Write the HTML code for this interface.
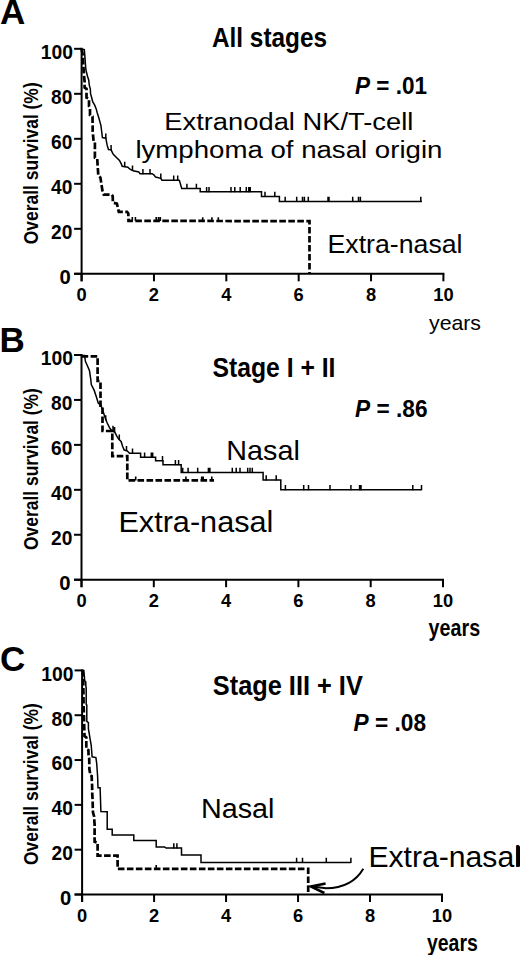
<!DOCTYPE html>
<html><head><meta charset="utf-8"><style>
html,body{margin:0;padding:0;background:#fff;}
svg{display:block;}
text{fill:#000;}
</style></head><body>
<svg width="520" height="955" viewBox="0 0 520 955">
<rect width="520" height="955" fill="#fff"/>
<line x1="81.6" y1="47.8" x2="81.6" y2="281.3" stroke="#000" stroke-width="2.0"/>
<line x1="74.1" y1="273.8" x2="444.4" y2="273.8" stroke="#000" stroke-width="2.0"/>
<line x1="74.1" y1="273.80" x2="81.6" y2="273.80" stroke="#000" stroke-width="2.0"/>
<text x="70.7" y="284.1" font-family="'Liberation Sans', sans-serif" font-weight="bold" font-size="20.3" text-anchor="end" >0</text>
<line x1="74.1" y1="228.80" x2="81.6" y2="228.80" stroke="#000" stroke-width="2.0"/>
<text x="72.4" y="239.1" font-family="'Liberation Sans', sans-serif" font-weight="bold" font-size="20.3" textLength="21.3" lengthAdjust="spacingAndGlyphs" text-anchor="end" >20</text>
<line x1="74.1" y1="183.80" x2="81.6" y2="183.80" stroke="#000" stroke-width="2.0"/>
<text x="72.4" y="194.1" font-family="'Liberation Sans', sans-serif" font-weight="bold" font-size="20.3" textLength="21.3" lengthAdjust="spacingAndGlyphs" text-anchor="end" >40</text>
<line x1="74.1" y1="138.80" x2="81.6" y2="138.80" stroke="#000" stroke-width="2.0"/>
<text x="72.4" y="149.1" font-family="'Liberation Sans', sans-serif" font-weight="bold" font-size="20.3" textLength="21.3" lengthAdjust="spacingAndGlyphs" text-anchor="end" >60</text>
<line x1="74.1" y1="93.80" x2="81.6" y2="93.80" stroke="#000" stroke-width="2.0"/>
<text x="72.4" y="104.1" font-family="'Liberation Sans', sans-serif" font-weight="bold" font-size="20.3" textLength="21.3" lengthAdjust="spacingAndGlyphs" text-anchor="end" >80</text>
<line x1="74.1" y1="48.80" x2="81.6" y2="48.80" stroke="#000" stroke-width="2.0"/>
<text x="73.0" y="59.1" font-family="'Liberation Sans', sans-serif" font-weight="bold" font-size="20.3" textLength="32.2" lengthAdjust="spacingAndGlyphs" text-anchor="end" >100</text>
<line x1="81.60" y1="273.8" x2="81.60" y2="281.3" stroke="#000" stroke-width="2.0"/>
<text x="81.60" y="301.2" font-family="'Liberation Sans', sans-serif" font-weight="bold" font-size="18.3" text-anchor="middle" >0</text>
<line x1="153.96" y1="273.8" x2="153.96" y2="281.3" stroke="#000" stroke-width="2.0"/>
<text x="153.96" y="301.2" font-family="'Liberation Sans', sans-serif" font-weight="bold" font-size="18.3" text-anchor="middle" >2</text>
<line x1="226.32" y1="273.8" x2="226.32" y2="281.3" stroke="#000" stroke-width="2.0"/>
<text x="226.32" y="301.2" font-family="'Liberation Sans', sans-serif" font-weight="bold" font-size="18.3" text-anchor="middle" >4</text>
<line x1="298.68" y1="273.8" x2="298.68" y2="281.3" stroke="#000" stroke-width="2.0"/>
<text x="298.68" y="301.2" font-family="'Liberation Sans', sans-serif" font-weight="bold" font-size="18.3" text-anchor="middle" >6</text>
<line x1="371.04" y1="273.8" x2="371.04" y2="281.3" stroke="#000" stroke-width="2.0"/>
<text x="371.04" y="301.2" font-family="'Liberation Sans', sans-serif" font-weight="bold" font-size="18.3" text-anchor="middle" >8</text>
<line x1="443.40" y1="273.8" x2="443.40" y2="281.3" stroke="#000" stroke-width="2.0"/>
<text x="443.40" y="301.2" font-family="'Liberation Sans', sans-serif" font-weight="bold" font-size="18.3" text-anchor="middle" >10</text>
<line x1="81.5" y1="354.0" x2="81.5" y2="587.2" stroke="#000" stroke-width="2.0"/>
<line x1="74.0" y1="579.7" x2="444.0" y2="579.7" stroke="#000" stroke-width="2.0"/>
<line x1="74.0" y1="579.70" x2="81.5" y2="579.70" stroke="#000" stroke-width="2.0"/>
<text x="70.6" y="590.0" font-family="'Liberation Sans', sans-serif" font-weight="bold" font-size="20.3" text-anchor="end" >0</text>
<line x1="74.0" y1="534.76" x2="81.5" y2="534.76" stroke="#000" stroke-width="2.0"/>
<text x="72.3" y="545.1" font-family="'Liberation Sans', sans-serif" font-weight="bold" font-size="20.3" textLength="21.3" lengthAdjust="spacingAndGlyphs" text-anchor="end" >20</text>
<line x1="74.0" y1="489.82" x2="81.5" y2="489.82" stroke="#000" stroke-width="2.0"/>
<text x="72.3" y="500.1" font-family="'Liberation Sans', sans-serif" font-weight="bold" font-size="20.3" textLength="21.3" lengthAdjust="spacingAndGlyphs" text-anchor="end" >40</text>
<line x1="74.0" y1="444.88" x2="81.5" y2="444.88" stroke="#000" stroke-width="2.0"/>
<text x="72.3" y="455.2" font-family="'Liberation Sans', sans-serif" font-weight="bold" font-size="20.3" textLength="21.3" lengthAdjust="spacingAndGlyphs" text-anchor="end" >60</text>
<line x1="74.0" y1="399.94" x2="81.5" y2="399.94" stroke="#000" stroke-width="2.0"/>
<text x="72.3" y="410.2" font-family="'Liberation Sans', sans-serif" font-weight="bold" font-size="20.3" textLength="21.3" lengthAdjust="spacingAndGlyphs" text-anchor="end" >80</text>
<line x1="74.0" y1="355.00" x2="81.5" y2="355.00" stroke="#000" stroke-width="2.0"/>
<text x="72.9" y="365.3" font-family="'Liberation Sans', sans-serif" font-weight="bold" font-size="20.3" textLength="32.2" lengthAdjust="spacingAndGlyphs" text-anchor="end" >100</text>
<line x1="81.50" y1="579.7" x2="81.50" y2="587.2" stroke="#000" stroke-width="2.0"/>
<text x="81.50" y="607.1" font-family="'Liberation Sans', sans-serif" font-weight="bold" font-size="18.3" text-anchor="middle" >0</text>
<line x1="153.80" y1="579.7" x2="153.80" y2="587.2" stroke="#000" stroke-width="2.0"/>
<text x="153.80" y="607.1" font-family="'Liberation Sans', sans-serif" font-weight="bold" font-size="18.3" text-anchor="middle" >2</text>
<line x1="226.10" y1="579.7" x2="226.10" y2="587.2" stroke="#000" stroke-width="2.0"/>
<text x="226.10" y="607.1" font-family="'Liberation Sans', sans-serif" font-weight="bold" font-size="18.3" text-anchor="middle" >4</text>
<line x1="298.40" y1="579.7" x2="298.40" y2="587.2" stroke="#000" stroke-width="2.0"/>
<text x="298.40" y="607.1" font-family="'Liberation Sans', sans-serif" font-weight="bold" font-size="18.3" text-anchor="middle" >6</text>
<line x1="370.70" y1="579.7" x2="370.70" y2="587.2" stroke="#000" stroke-width="2.0"/>
<text x="370.70" y="607.1" font-family="'Liberation Sans', sans-serif" font-weight="bold" font-size="18.3" text-anchor="middle" >8</text>
<line x1="443.00" y1="579.7" x2="443.00" y2="587.2" stroke="#000" stroke-width="2.0"/>
<text x="443.00" y="607.1" font-family="'Liberation Sans', sans-serif" font-weight="bold" font-size="18.3" text-anchor="middle" >10</text>
<line x1="82.1" y1="669.4" x2="82.1" y2="902.0" stroke="#000" stroke-width="2.0"/>
<line x1="74.6" y1="894.5" x2="443.0" y2="894.5" stroke="#000" stroke-width="2.0"/>
<line x1="74.6" y1="894.50" x2="82.1" y2="894.50" stroke="#000" stroke-width="2.0"/>
<text x="71.2" y="904.8" font-family="'Liberation Sans', sans-serif" font-weight="bold" font-size="20.3" text-anchor="end" >0</text>
<line x1="74.6" y1="849.68" x2="82.1" y2="849.68" stroke="#000" stroke-width="2.0"/>
<text x="72.9" y="860.0" font-family="'Liberation Sans', sans-serif" font-weight="bold" font-size="20.3" textLength="21.3" lengthAdjust="spacingAndGlyphs" text-anchor="end" >20</text>
<line x1="74.6" y1="804.86" x2="82.1" y2="804.86" stroke="#000" stroke-width="2.0"/>
<text x="72.9" y="815.2" font-family="'Liberation Sans', sans-serif" font-weight="bold" font-size="20.3" textLength="21.3" lengthAdjust="spacingAndGlyphs" text-anchor="end" >40</text>
<line x1="74.6" y1="760.04" x2="82.1" y2="760.04" stroke="#000" stroke-width="2.0"/>
<text x="72.9" y="770.3" font-family="'Liberation Sans', sans-serif" font-weight="bold" font-size="20.3" textLength="21.3" lengthAdjust="spacingAndGlyphs" text-anchor="end" >60</text>
<line x1="74.6" y1="715.22" x2="82.1" y2="715.22" stroke="#000" stroke-width="2.0"/>
<text x="72.9" y="725.5" font-family="'Liberation Sans', sans-serif" font-weight="bold" font-size="20.3" textLength="21.3" lengthAdjust="spacingAndGlyphs" text-anchor="end" >80</text>
<line x1="74.6" y1="670.40" x2="82.1" y2="670.40" stroke="#000" stroke-width="2.0"/>
<text x="73.5" y="680.7" font-family="'Liberation Sans', sans-serif" font-weight="bold" font-size="20.3" textLength="32.2" lengthAdjust="spacingAndGlyphs" text-anchor="end" >100</text>
<line x1="82.10" y1="894.5" x2="82.10" y2="902.0" stroke="#000" stroke-width="2.0"/>
<text x="82.10" y="921.9" font-family="'Liberation Sans', sans-serif" font-weight="bold" font-size="18.3" text-anchor="middle" >0</text>
<line x1="154.08" y1="894.5" x2="154.08" y2="902.0" stroke="#000" stroke-width="2.0"/>
<text x="154.08" y="921.9" font-family="'Liberation Sans', sans-serif" font-weight="bold" font-size="18.3" text-anchor="middle" >2</text>
<line x1="226.06" y1="894.5" x2="226.06" y2="902.0" stroke="#000" stroke-width="2.0"/>
<text x="226.06" y="921.9" font-family="'Liberation Sans', sans-serif" font-weight="bold" font-size="18.3" text-anchor="middle" >4</text>
<line x1="298.04" y1="894.5" x2="298.04" y2="902.0" stroke="#000" stroke-width="2.0"/>
<text x="298.04" y="921.9" font-family="'Liberation Sans', sans-serif" font-weight="bold" font-size="18.3" text-anchor="middle" >6</text>
<line x1="370.02" y1="894.5" x2="370.02" y2="902.0" stroke="#000" stroke-width="2.0"/>
<text x="370.02" y="921.9" font-family="'Liberation Sans', sans-serif" font-weight="bold" font-size="18.3" text-anchor="middle" >8</text>
<line x1="442.00" y1="894.5" x2="442.00" y2="902.0" stroke="#000" stroke-width="2.0"/>
<text x="442.00" y="921.9" font-family="'Liberation Sans', sans-serif" font-weight="bold" font-size="18.3" text-anchor="middle" >10</text>
<text x="0" y="23.5" font-family="'Liberation Sans', sans-serif" font-weight="bold" font-size="35" >A</text>
<text x="-0.6" y="351.7" font-family="'Liberation Sans', sans-serif" font-weight="bold" font-size="35" >B</text>
<text x="0" y="671" font-family="'Liberation Sans', sans-serif" font-weight="bold" font-size="35" >C</text>
<text transform="translate(38,244.2) rotate(-90)" x="0" y="0" font-family="'Liberation Sans', sans-serif" font-weight="bold" font-size="20.5" textLength="161.9" lengthAdjust="spacingAndGlyphs">Overall survival (%)</text>
<text transform="translate(38,550.0) rotate(-90)" x="0" y="0" font-family="'Liberation Sans', sans-serif" font-weight="bold" font-size="20.5" textLength="161.9" lengthAdjust="spacingAndGlyphs">Overall survival (%)</text>
<text transform="translate(38,865.0) rotate(-90)" x="0" y="0" font-family="'Liberation Sans', sans-serif" font-weight="bold" font-size="20.5" textLength="161.9" lengthAdjust="spacingAndGlyphs">Overall survival (%)</text>
<text x="212" y="47.4" font-family="'Liberation Sans', sans-serif" font-weight="bold" font-size="28.5" textLength="115" lengthAdjust="spacingAndGlyphs" >All stages</text>
<text x="212.5" y="377.4" font-family="'Liberation Sans', sans-serif" font-weight="bold" font-size="28" textLength="123" lengthAdjust="spacingAndGlyphs" >Stage I + II</text>
<text x="212.8" y="695" font-family="'Liberation Sans', sans-serif" font-weight="bold" font-size="28" textLength="150" lengthAdjust="spacingAndGlyphs" >Stage III + IV</text>
<text x="355" y="94.2" font-family="'Liberation Sans', sans-serif" font-weight="bold" font-size="24" textLength="72" lengthAdjust="spacingAndGlyphs"><tspan font-style="italic">P</tspan> = .01</text>
<text x="355" y="416.5" font-family="'Liberation Sans', sans-serif" font-weight="bold" font-size="24" textLength="72.5" lengthAdjust="spacingAndGlyphs"><tspan font-style="italic">P</tspan> = .86</text>
<text x="353.6" y="731.2" font-family="'Liberation Sans', sans-serif" font-weight="bold" font-size="24" textLength="72.5" lengthAdjust="spacingAndGlyphs"><tspan font-style="italic">P</tspan> = .08</text>
<text x="164.3" y="129.8" font-family="'Liberation Sans', sans-serif" font-size="23" textLength="249" lengthAdjust="spacingAndGlyphs" >Extranodal NK/T-cell</text>
<text x="135.4" y="157.7" font-family="'Liberation Sans', sans-serif" font-size="23" textLength="307" lengthAdjust="spacingAndGlyphs" >lymphoma of nasal origin</text>
<text x="327.5" y="252.9" font-family="'Liberation Sans', sans-serif" font-size="25.2" textLength="135" lengthAdjust="spacingAndGlyphs" >Extra-nasal</text>
<text x="226.3" y="460.2" font-family="'Liberation Sans', sans-serif" font-size="28" textLength="73.5" lengthAdjust="spacingAndGlyphs" >Nasal</text>
<text x="118.4" y="532.3" font-family="'Liberation Sans', sans-serif" font-size="28.8" textLength="155" lengthAdjust="spacingAndGlyphs" >Extra-nasal</text>
<text x="201" y="817.5" font-family="'Liberation Sans', sans-serif" font-size="27" textLength="73.5" lengthAdjust="spacingAndGlyphs" >Nasal</text>
<text x="368.4" y="866.5" font-family="'Liberation Sans', sans-serif" font-size="28.8" textLength="152.5" lengthAdjust="spacingAndGlyphs" >Extra-nasal</text>
<text x="429" y="329.5" font-family="'Liberation Sans', sans-serif" font-size="21" textLength="52" lengthAdjust="spacingAndGlyphs" >years</text>
<text x="428.6" y="636.3" font-family="'Liberation Sans', sans-serif" font-weight="bold" font-size="24.3" textLength="51.5" lengthAdjust="spacingAndGlyphs" >years</text>
<text x="427" y="950.5" font-family="'Liberation Sans', sans-serif" font-weight="bold" font-size="24.3" textLength="50.8" lengthAdjust="spacingAndGlyphs" >years</text>
<polyline points="81.6,49.0 84.3,49.6 84.9,56.6 85.5,65.0 85.9,70.0 87.5,76.3 88.7,80.0 89.3,85.1 90.3,88.8 90.6,93.9 91.5,97.0 92.8,102.0 94.7,105.2 96.2,108.9 97.2,112.7 98.8,117.7 100.0,122.1 101.0,125.9 101.6,131.0 102.4,137.5 105.8,138.2 107.2,145.4 108.5,149.5 111.0,149.8 113.3,154.3 116.7,157.7 119.5,160.4 121.5,164.4 122.2,166.3 127.9,167.3 129.6,169.0 133.1,170.8 138.8,171.9 140.0,173.7 152.1,173.7 153.8,174.8 155.6,177.1 160.8,178.3 161.9,180.2 179.0,180.2 179.4,180.4 181.7,188.5 200.2,188.5 200.2,191.7 261.5,191.7 261.5,196.6 279.4,196.6 279.4,201.5 421.9,201.5" fill="none" stroke="#000" stroke-width="1.5" stroke-linejoin="miter"/>
<path d="M105.8 138.7V133.4M111.1 150.3V145.0M124.7 167.1V161.8M132.5 170.8V165.5M142.9 174.2V168.9M150.0 174.2V168.9M160.8 178.8V173.5M173.7 180.7V175.4M177.7 180.7V175.4M186.9 189.0V183.7M196.4 189.0V183.7M206.6 192.2V186.9M209.0 192.2V186.9M231.0 192.2V186.9M234.8 192.2V186.9M240.2 192.2V186.9M246.3 192.2V186.9M248.8 192.2V186.9M250.2 192.2V186.9M265.0 197.1V191.8M274.8 197.1V191.8M285.2 202.0V196.7M296.7 202.0V196.7M302.5 202.0V196.7M304.4 202.0V196.7M308.3 202.0V196.7M328.0 202.0V196.7M329.0 202.0V196.7M352.7 202.0V196.7M358.5 202.0V196.7M360.4 202.0V196.7M420.8 202.0V196.7" stroke="#000" stroke-width="1.5" fill="none"/>
<polyline points="81.6,49.0 82.8,55.0 83.3,65.0 84.0,75.0 84.6,81.3 84.6,87.6 86.5,88.8 86.5,97.6 89.0,98.9 89.0,106.4 90.0,107.7 90.0,115.2 92.5,116.5 92.7,131.8 93.6,141.3 94.9,142.0 94.9,157.7 97.2,158.6 98.3,175.4 100.4,177.6 102.4,190.4 103.8,194.6 111.5,194.6 112.7,196.0 112.9,202.6 116.9,203.6 118.8,211.8 127.0,211.8 128.3,213.5 128.5,220.8 309.5,221.2 309.5,273.8" fill="none" stroke="#000" stroke-width="2.7" stroke-dasharray="6.6 2.4"/>
<path d="M132.3 220.8V217.0M135.4 220.8V217.0M156.2 220.9V217.1M158.5 220.9V217.1M160.3 220.9V217.1M202.7 221.0V217.2M211.9 221.0V217.2M218.3 221.0V217.2" stroke="#000" stroke-width="1.6" fill="none"/>
<polyline points="81.6,355.5 84.5,355.5 85.5,361.5 87.5,366.0 89.5,370.8 90.7,378.8 91.3,384.6 94.2,390.4 96.5,397.3 98.2,403.0 101.0,405.4 102.6,410.0 104.9,416.9 107.2,423.0 109.5,427.7 111.8,430.8 114.9,432.3 116.8,436.2 118.8,439.2 121.1,441.5 122.6,446.2 124.2,450.0 127.2,450.8 129.5,453.3 140.6,453.3 140.6,457.3 155.6,457.3 155.6,460.8 163.0,460.8 163.0,464.8 181.2,464.8 181.2,472.6 263.1,472.6 263.1,480.0 280.8,480.0 280.8,489.7 421.5,489.7" fill="none" stroke="#000" stroke-width="1.5" stroke-linejoin="miter"/>
<path d="M105.7 420.5V415.2M113.0 431.1V425.8M114.6 432.3V427.0M119.3 439.7V434.4M126.5 451.3V446.0M132.5 453.8V448.5M144.6 457.8V452.5M151.3 457.8V452.5M152.7 457.8V452.5M162.5 461.3V456.0M175.4 465.3V460.0M178.6 465.3V460.0M182.7 473.1V467.8M188.1 473.1V467.8M197.7 473.1V467.8M208.4 473.1V467.8M209.9 473.1V467.8M232.3 473.1V467.8M236.2 473.1V467.8M240.0 473.1V467.8M247.7 473.1V467.8M250.0 473.1V467.8M252.3 473.1V467.8M266.2 480.5V475.2M276.2 480.5V475.2M285.4 490.2V484.9M303.7 490.2V484.9M308.5 490.2V484.9M330.0 490.2V484.9M350.9 490.2V484.9M359.6 490.2V484.9M361.0 490.2V484.9M412.8 490.2V484.9M421.5 490.2V484.9" stroke="#000" stroke-width="1.5" fill="none"/>
<polyline points="81.6,356.3 97.6,356.3 97.6,381.0 100.5,381.0 100.5,407.0 102.5,407.0 102.5,431.0 112.3,431.0 112.3,456.2 127.3,456.2 127.3,480.4 214.0,480.4" fill="none" stroke="#000" stroke-width="2.7" stroke-dasharray="6.6 2.4"/>
<path d="M135.7 480.4V476.6M185.9 480.4V476.6M201.7 480.4V476.6M203.2 480.4V476.6M211.8 480.4V476.6" stroke="#000" stroke-width="1.6" fill="none"/>
<polyline points="82.2,670.6 83.5,671.0 84.3,675.5 84.7,680.9 85.7,681.7 85.9,686.3 86.2,688.0 86.2,704.4 86.8,705.0 86.8,721.4 88.4,722.6 88.4,728.9 89.3,734.0 90.2,739.6 91.2,745.2 91.6,750.0 92.1,756.8 95.9,757.6 96.7,763.5 97.6,776.0 98.0,787.7 100.1,787.7 100.5,799.5 100.9,811.5 107.2,811.7 107.2,829.3 112.2,829.3 112.2,835.0 133.8,835.0 133.8,840.5 156.2,840.5 156.2,846.9 164.6,846.9 166.0,848.0 181.5,848.0 181.5,855.0 201.0,855.0 201.0,862.5 350.9,862.5" fill="none" stroke="#000" stroke-width="1.5" stroke-linejoin="miter"/>
<path d="M173.8 848.5V843.2M176.9 848.5V843.2M296.6 863.0V857.7M302.5 863.0V857.7M326.3 863.0V857.7M350.9 863.0V857.7" stroke="#000" stroke-width="1.5" fill="none"/>
<polyline points="82.2,670.6 83.2,671.0 83.5,700.0 84.2,725.0 84.5,736.0 86.3,737.5 86.3,749.0 88.4,750.0 88.6,756.0 89.2,758.5 89.4,769.3 90.0,772.7 90.0,775.2 91.7,776.0 91.9,782.7 92.1,785.2 92.3,796.0 92.6,798.6 92.8,808.7 93.0,812.6 94.2,816.7 94.4,821.8 94.6,824.3 94.6,841.8 97.6,842.7 97.6,855.6 117.6,855.6 117.6,868.8 308.2,868.8 308.2,894.5" fill="none" stroke="#000" stroke-width="2.7" stroke-dasharray="6.6 2.4"/>
<path d="M156.2 868.8V865.0" stroke="#000" stroke-width="1.6" fill="none"/>
<rect x="516.2" y="846.2" width="3.8" height="20.4" fill="#000"/>
<path d="M363.3 868.7 Q352 888 326 888.2 L312 886.4" fill="none" stroke="#000" stroke-width="2"/>
<path d="M325.6 883.6 L311 886.6 L324.4 893" fill="none" stroke="#000" stroke-width="2.6" stroke-linejoin="miter"/>
</svg>
</body></html>
